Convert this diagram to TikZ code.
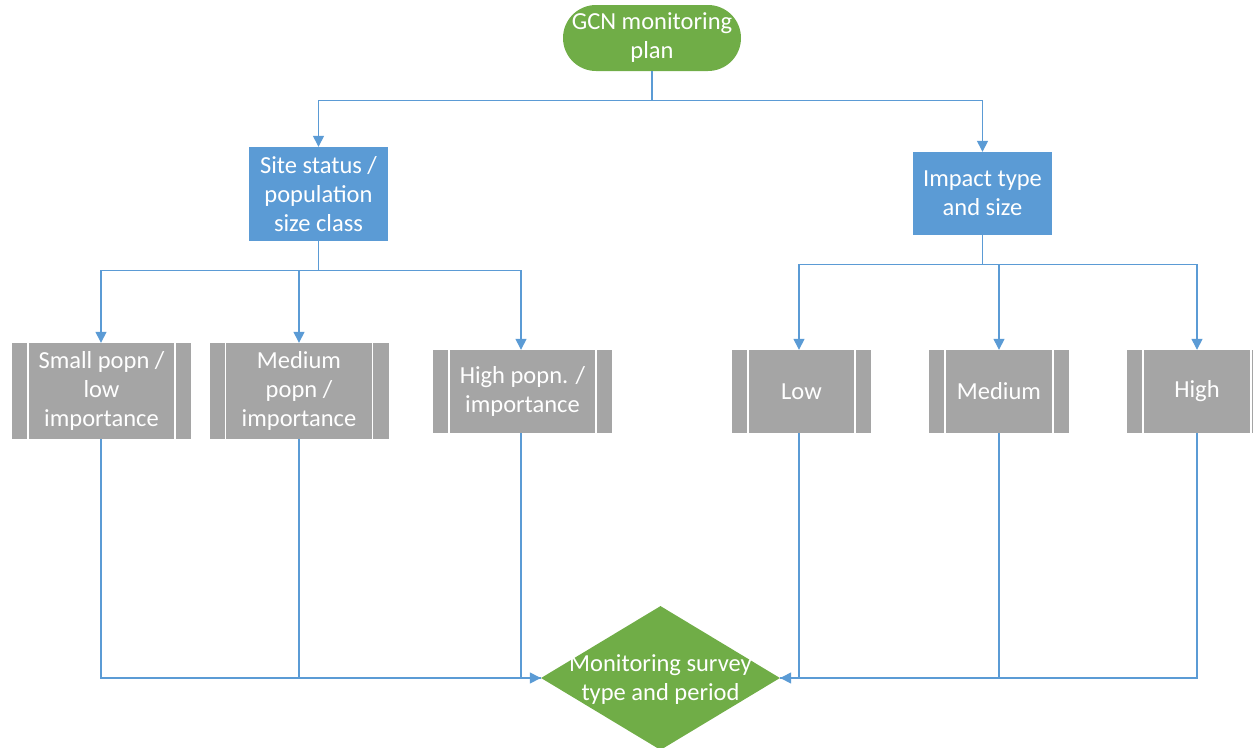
\documentclass[tikz,border=0pt]{standalone}
\usepackage{fontspec}
\setmainfont{Carlito}
\usetikzlibrary{arrows.meta,shapes.geometric}
\definecolor{gfill}{HTML}{70AD47}
\definecolor{bfill}{HTML}{5B9BD5}
\definecolor{pfill}{HTML}{A5A5A5}
\definecolor{lcol}{HTML}{5B9BD5}
\tikzset{
  txt/.style={text=white, align=center, font=\fontsize{24.5}{29}\selectfont, inner sep=0pt},
  term/.style={txt, fill=gfill, rectangle, rounded corners=33pt, minimum width=178pt, minimum height=66pt},
  proc/.style={txt, fill=bfill, rectangle, minimum width=139pt},
  ppbox/.style={txt, fill=pfill, rectangle,
    path picture={\draw[white, line width=1.3pt]
      ([xshift=16pt]path picture bounding box.north west) -- ([xshift=16pt]path picture bounding box.south west)
      ([xshift=-16pt]path picture bounding box.north east) -- ([xshift=-16pt]path picture bounding box.south east);}},
  dec/.style={diamond, fill=gfill, minimum width=239pt, minimum height=144pt, inner sep=0pt},
  conn/.style={draw=lcol, line width=1.4pt, -{Triangle[length=11pt,width=11pt]}},
  plain/.style={draw=lcol, line width=1.4pt}
}
\begin{document}
\begin{tikzpicture}[x=1pt,y=-1pt]
\useasboundingbox (0,0) rectangle (1253,747);
\clip (0,0) rectangle (1253,747);
\node[term] (gcn) at (652,38) {GCN monitoring\\plan};
\node[proc, minimum height=94pt] (site) at (318.5,194) {Site status /\\population\\size class};
\node[proc, minimum height=83pt] (impact) at (982.5,193.5) {Impact type\\and size};

\node[ppbox, minimum width=179pt, minimum height=96pt] (small) at (101.5,391) {Small popn /\\low\\importance};
\node[ppbox, minimum width=179pt, minimum height=96pt] (medl) at (299,391) {Medium\\popn /\\importance};
\node[ppbox, minimum width=179pt, minimum height=83pt] (highl) at (522.5,391.5) {High popn. /\\importance};

\node[ppbox, minimum width=139pt, minimum height=83pt] (low) at (801.5,391.5) {Low};
\node[ppbox, minimum width=140pt, minimum height=83pt] (medr) at (999,391.5) {Medium};
\node[ppbox, minimum width=140pt, minimum height=83pt] (highr) at (1197,391.5) {High};

\node[dec] (dia) at (660.5,678) {};
\node[txt] (diat) at (660.5,680) {Monitoring survey\\type and period};

% top branching
\draw[conn] (gcn.south) -- ++(0,29) -| (site.north);
\draw[conn] (gcn.south) -- ++(0,29) -| (impact.north);

% left branching
\draw[conn] (site.south) -- ++(0,29) -| ([xshift=-0.5pt]small.north);
\draw[conn] (site.south) -- ++(0,29) -| (medl.north);
\draw[conn] (site.south) -- ++(0,29) -| ([xshift=-1.5pt]highl.north);

% right branching
\draw[conn] (impact.south) -- ++(0,29) -| ([xshift=-2.5pt]low.north);
\draw[conn] (impact.south) -- ++(0,29) -| (medr.north);
\draw[conn] (impact.south) -- ++(0,29) -| (highr.north);

% to decision
\draw[plain] ([xshift=-0.5pt]small.south) |- (dia.west);
\draw[plain] (medl.south) |- (dia.west);
\draw[conn] ([xshift=-1.5pt]highl.south) |- (dia.west);
\draw[plain] ([xshift=-2.5pt]low.south) |- (dia.east);
\draw[plain] (medr.south) |- (dia.east);
\draw[conn] (highr.south) |- (dia.east);
\end{tikzpicture}
\end{document}
